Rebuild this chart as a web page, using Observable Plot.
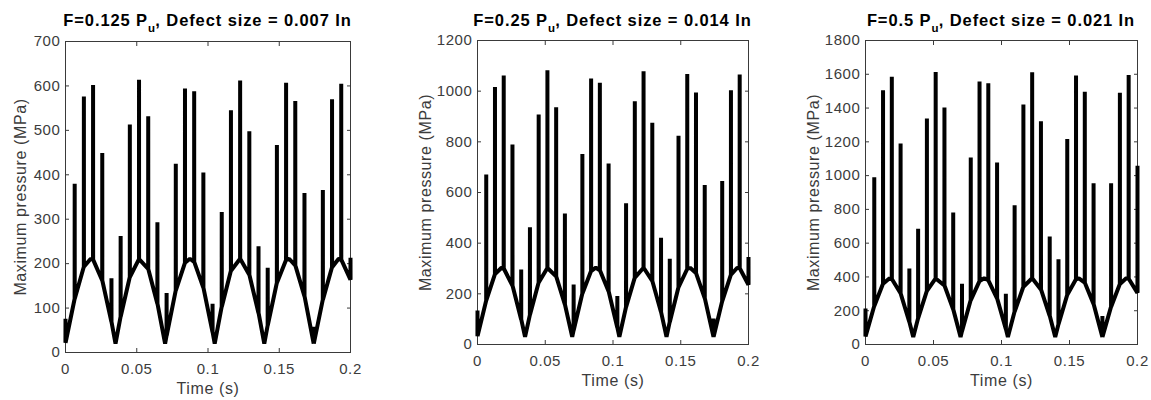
<!DOCTYPE html>
<html><head><meta charset="utf-8">
<script src="https://cdn.jsdelivr.net/npm/d3@7"></script>
<script src="https://cdn.jsdelivr.net/npm/@observablehq/plot@0.6"></script>
<style>
html,body{margin:0;padding:0;background:#fff;}
#wrap{position:relative;width:1151px;height:400px;overflow:hidden;font-family:"Liberation Sans",Arial,sans-serif;}
.panel{position:absolute;top:0;}
.title{position:absolute;top:10px;width:400px;text-align:center;font-weight:bold;font-size:16.5px;line-height:20px;letter-spacing:0.9px;color:#000;white-space:nowrap;}
.title .sub{font-size:11.5px;position:relative;top:6px;letter-spacing:0.3px;}
</style></head>
<body><div id="wrap"></div>
<script>
// ---- data ----
const xTicks = [0, 0.05, 0.1, 0.15, 0.2];
const xTickLabels = ["0", "0.05", "0.1", "0.15", "0.2"];
const yTicks1 = [0, 100, 200, 300, 400, 500, 600, 700];
const yTicks2 = [0, 200, 400, 600, 800, 1000, 1200];
const yTicks3 = [0, 200, 400, 600, 800, 1000, 1200, 1400, 1600, 1800];
const forces = ["0.125", "0.25", "0.5"];
const defects = ["0.007", "0.014", "0.021"];
const xLabel = "Time (s)";
const yLabel = "Maximum pressure (MPa)";

// base (smooth) curve knots, time in s
const timeKnots = [0, 0.00645, 0.0129, 0.0177, 0.01935, 0.0258, 0.03225, 0.0351, 0.0387, 0.04515,
  0.0516, 0.05805, 0.0645, 0.0699, 0.07095, 0.0774, 0.08385, 0.0873, 0.0903, 0.09675,
  0.1032, 0.1047, 0.10965, 0.1161, 0.12255, 0.129, 0.13545, 0.1395, 0.1419, 0.14835,
  0.1548, 0.1569, 0.16125, 0.1677, 0.1742, 0.1806, 0.18705, 0.1917, 0.1935, 0.2];
const baseP1 = [22, 121, 193, 211, 209, 162, 69, 20, 81, 170,
  210, 188, 110, 20, 38, 140, 202, 211, 204, 146,
  46, 20, 103, 184, 211, 175, 89, 20, 61, 157,
  208, 211, 196, 127, 20, 119, 192, 211, 209, 164];
const baseP2 = [33, 174, 278, 303, 300, 233, 99, 30, 117, 245,
  302, 269, 158, 30, 56, 201, 290, 303, 293, 210,
  67, 30, 148, 264, 303, 251, 128, 30, 89, 226,
  298, 303, 282, 183, 30, 171, 276, 303, 301, 236];
const baseP3 = [48, 228, 360, 392, 388, 303, 133, 45, 156, 318,
  391, 349, 208, 45, 78, 263, 375, 392, 380, 273,
  92, 45, 195, 342, 392, 326, 170, 45, 120, 294,
  386, 392, 366, 240, 45, 224, 358, 392, 389, 306];

// impact spikes
const spikeTimes = [0, 0.00645, 0.0129, 0.01935, 0.0258, 0.03225, 0.0387, 0.04515, 0.0516, 0.05805,
  0.0645, 0.07095, 0.0774, 0.08385, 0.0903, 0.09675, 0.1032, 0.10965, 0.1161, 0.12255,
  0.129, 0.13545, 0.1419, 0.14835, 0.1548, 0.16125, 0.1677, 0.1742, 0.1806, 0.18705, 0.1935, 0.2];
const spikeP1 = [76, 380, 576, 602, 449, 167, 262, 513, 614, 532,
  293, 134, 425, 594, 588, 405, 110, 316, 545, 612,
  498, 239, 191, 467, 607, 566, 359, 58, 366, 570, 605, 213];
const spikeP2 = [134, 671, 1016, 1062, 789, 296, 463, 908, 1083, 937,
  517, 237, 752, 1050, 1033, 714, 191, 558, 960, 1079,
  875, 421, 338, 824, 1068, 995, 630, 103, 645, 1004, 1066, 345];
const spikeP3 = [213, 991, 1506, 1585, 1190, 450, 685, 1338, 1614, 1403,
  782, 359, 1107, 1557, 1547, 1078, 300, 825, 1421, 1612,
  1322, 639, 505, 1217, 1593, 1496, 955, 168, 955, 1490, 1595, 1058];

// ---- layout ----
const panels = [
  {left: 0, width: 384, mL: 65, mR: 34, mT: 41, mB: 48, yMax: 700, yTicks: yTicks1, base: baseP1, spikes: spikeP1, yLabOff: 44.5},
  {left: 384, width: 384, mL: 93, mR: 20, mT: 40, mB: 56, yMax: 1200, yTicks: yTicks2, base: baseP2, spikes: spikeP2, yLabOff: 52},
  {left: 768, width: 383, mL: 97, mR: 14, mT: 40, mB: 56, yMax: 1800, yTicks: yTicks3, base: baseP3, spikes: spikeP3, yLabOff: 52}
];
const EPS = 0.00004;
const axisColor = "#3a3a3a";
const wrap = document.getElementById("wrap");

panels.forEach((p, k) => {
  const pts = [];
  timeKnots.forEach((t, i) => {
    const b = p.base[i];
    const j = spikeTimes.indexOf(t);
    if (j >= 0) {
      pts.push({t: t - EPS, v: b}, {t: t, v: p.spikes[j]}, {t: t + EPS, v: b});
    } else {
      pts.push({t: t, v: b});
    }
  });
  const chart = Plot.plot({
    width: p.width, height: 400,
    marginLeft: p.mL, marginRight: p.mR, marginTop: p.mT, marginBottom: p.mB,
    style: {fontFamily: '"Liberation Sans", Arial, sans-serif', fontSize: "15px", color: "#3c3c3c", letterSpacing: "0.6px", background: "transparent", overflow: "visible"},
    x: {domain: [0, 0.2]},
    y: {domain: [0, p.yMax]},
    marks: [
      Plot.frame({stroke: axisColor, strokeWidth: 1}),
      Plot.axisX({ticks: xTicks, anchor: "bottom", tickSize: 0, tickPadding: 11, tickFormat: d => xTickLabels[xTicks.indexOf(d)], label: null, fontSize: 15}),
      Plot.axisX({ticks: xTicks, anchor: "bottom", tickSize: -4, tickFormat: () => "", label: null, stroke: axisColor}),
      Plot.axisX({ticks: xTicks, anchor: "top", tickSize: -4, tickFormat: () => "", label: null, stroke: axisColor}),
      Plot.axisY({ticks: p.yTicks, anchor: "left", tickSize: 0, tickPadding: 5, tickFormat: d => String(d), label: null, fontSize: 15}),
      Plot.axisY({ticks: p.yTicks, anchor: "left", tickSize: -4, tickFormat: () => "", label: null, stroke: axisColor}),
      Plot.axisY({ticks: p.yTicks, anchor: "right", tickSize: -4, tickFormat: () => "", label: null, stroke: axisColor}),
      Plot.line(pts, {x: "t", y: "v", stroke: "#000", strokeWidth: 4, strokeLinejoin: "bevel", strokeLinecap: "butt"}),
      Plot.text([xLabel], {frameAnchor: "bottom", text: d => d, textAnchor: "middle", lineAnchor: "top", dy: 30, fontSize: 16}),
      Plot.text([yLabel], {frameAnchor: "left", text: d => d, textAnchor: "middle", lineAnchor: "middle", rotate: -90, dx: -p.yLabOff, fontSize: 16})
    ]
  });
  const holder = document.createElement("div");
  holder.className = "panel";
  holder.style.left = p.left + "px";
  holder.appendChild(chart);
  wrap.appendChild(holder);

  const center = p.left + p.mL + (p.width - p.mL - p.mR) / 2;
  const title = document.createElement("div");
  title.className = "title";
  title.style.left = (center - 200) + "px";
  title.innerHTML = "F=" + forces[k] + " P<span class=\"sub\">u</span>, Defect size = " + defects[k] + " In";
  wrap.appendChild(title);
});
</script>
</body></html>
